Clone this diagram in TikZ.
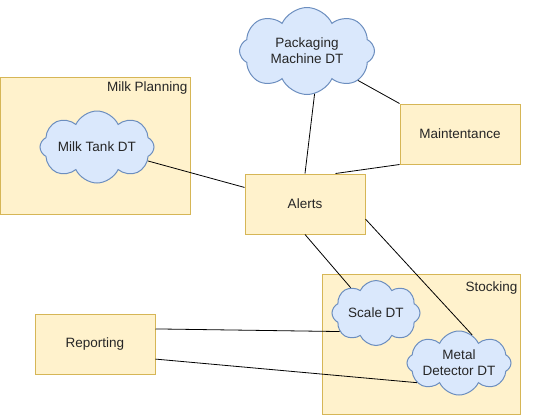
\documentclass[tikz,border=0pt]{standalone}
\usepackage{fontspec}
\setmainfont{Liberation Sans}
\usetikzlibrary{shapes.symbols, positioning}
\definecolor{boxfill}{HTML}{FFF2CC}
\definecolor{boxline}{HTML}{D6B656}
\definecolor{dtfill}{HTML}{DAE8FC}
\definecolor{dtline}{HTML}{6C8EBF}
\begin{document}
\begin{tikzpicture}[
          x=1pt, y=-1pt,
          every node/.style={font=\fontsize{13.5}{16}\selectfont, text=black!85},
          group/.style={draw=boxline, fill=boxfill, line width=1pt, inner sep=0pt},
          block/.style={draw=boxline, fill=boxfill, line width=1pt, minimum width=120pt, minimum height=60pt},
          twin/.style={cloud, cloud puffs=8, cloud puff arc=130, cloud ignores aspect, draw=dtline, fill=dtfill, line width=1pt, align=center, inner sep=0pt},
          link/.style={draw=black, line width=0.8pt}
        ]
        \useasboundingbox (0,0) rectangle (536,416);
        % groups
        \node[group, minimum width=190pt, minimum height=137pt] (milkplanning) at (95,145.5) {};
        \node[anchor=north east, inner xsep=3pt, inner ysep=5pt] at (milkplanning.north east) {Milk Planning};
        \node[group, minimum width=198pt, minimum height=140pt] (stocking) at (421,344) {};
        \node[anchor=north east, inner xsep=3pt, inner ysep=8pt] at (stocking.north east) {Stocking};
        % blocks
        \node[block] (alerts) at (305,204) {Alerts};
        \node[block] (maint) at (460,134) {Maintentance};
        \node[block] (reporting) at (95,344) {Reporting};
        % digital twins
        \node[twin, minimum width=114pt, minimum height=72pt] (milktank) at (97,147) {Milk Tank DT};
        \node[twin, minimum width=135pt, minimum height=87pt] (pack) at (307,51) {Packaging\\Machine DT};
        \node[twin, minimum width=88pt, minimum height=65pt] (scale) at (376,313) {Scale DT};
        \node[twin, minimum width=96pt, minimum height=64pt] (metal) at (459,363) {Metal\\Detector DT};
        % links
        \draw[link] (milktank) -- (alerts);
        \draw[link] (pack.-80) -- (alerts.north);
        \draw[link] (pack.-30) -- (maint.north west);
        \draw[link] (maint.south west) -- (alerts.45);
        \draw[link] (alerts.south) -- (scale.135);
        \draw[link] (alerts.-14) -- (metal.65);
        \draw[link] (reporting.14) -- (scale.207);
        \draw[link] (reporting.-14) -- (metal.205);
\end{tikzpicture}
\end{document}
